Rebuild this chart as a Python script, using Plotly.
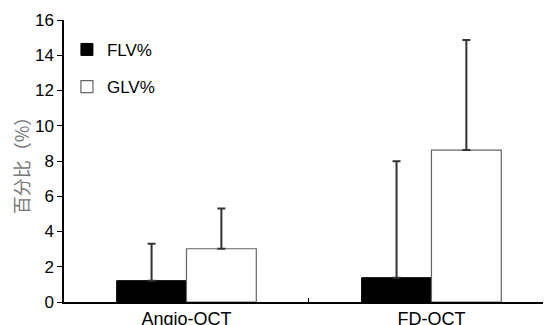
import plotly.graph_objects as go

categories = ["Angio-OCT", "FD-OCT"]
flv_values = [1.21, 1.38]
flv_err = [2.1, 6.6]
glv_values = [3.02, 8.62]
glv_err = [2.28, 6.25]
y_ticks = [0, 2, 4, 6, 8, 10, 12, 14, 16]

font_family = "Liberation Sans, Arial, sans-serif"

fig = go.Figure()
fig.add_trace(go.Bar(
    x=categories, y=flv_values, name="FLV%",
    marker=dict(color="black", line=dict(color="black", width=1)),
    error_y=dict(type="data", array=flv_err, arrayminus=[0, 0], symmetric=False,
                 color="#333333", thickness=2, width=4),
    legend="legend", showlegend=True,
))
fig.add_trace(go.Bar(
    x=categories, y=glv_values, name="GLV%",
    marker=dict(color="white", line=dict(color="#666666", width=1.2)),
    error_y=dict(type="data", array=glv_err, arrayminus=[0, 0], symmetric=False,
                 color="#333333", thickness=2, width=4),
    legend="legend2", showlegend=True,
))

legend_common = dict(
    bgcolor="rgba(0,0,0,0)", borderwidth=0,
    font=dict(family=font_family, size=17, color="black"),
    xanchor="left", yanchor="middle",
    itemwidth=30,
)

fig.update_layout(
    width=543, height=317,
    margin=dict(l=56, r=0, t=12, b=23, autoexpand=False),
    paper_bgcolor="white", plot_bgcolor="white",
    showlegend=True,
    barmode="group", bargap=0.43, bargroupgap=0,
    font=dict(family=font_family, size=15, color="black"),
    legend=dict(x=0.006, y=0.894, **legend_common),
    legend2=dict(x=0.006, y=0.762, **legend_common),
    xaxis=dict(
        range=[-0.5, 1.488], showline=True, linecolor="black", linewidth=1.5,
        ticks="inside", tickson="boundaries", ticklen=4, tickcolor="black",
        showgrid=False, zeroline=False, automargin=False,
        tickfont=dict(family=font_family, size=18, color="black"),
    ),
    yaxis=dict(
        range=[0, 16], tickvals=y_ticks, showline=True, linecolor="black",
        linewidth=1.5, ticks="outside", ticklen=5, tickcolor="black",
        showgrid=False, zeroline=False, automargin=False,
        tickfont=dict(family=font_family, size=17, color="black"),
        title=dict(text="百分比（%）", standoff=7,
                   font=dict(family="Noto Sans CJK SC", size=18, color="#777777")),
    ),
)

fig.write_html("out.html")
